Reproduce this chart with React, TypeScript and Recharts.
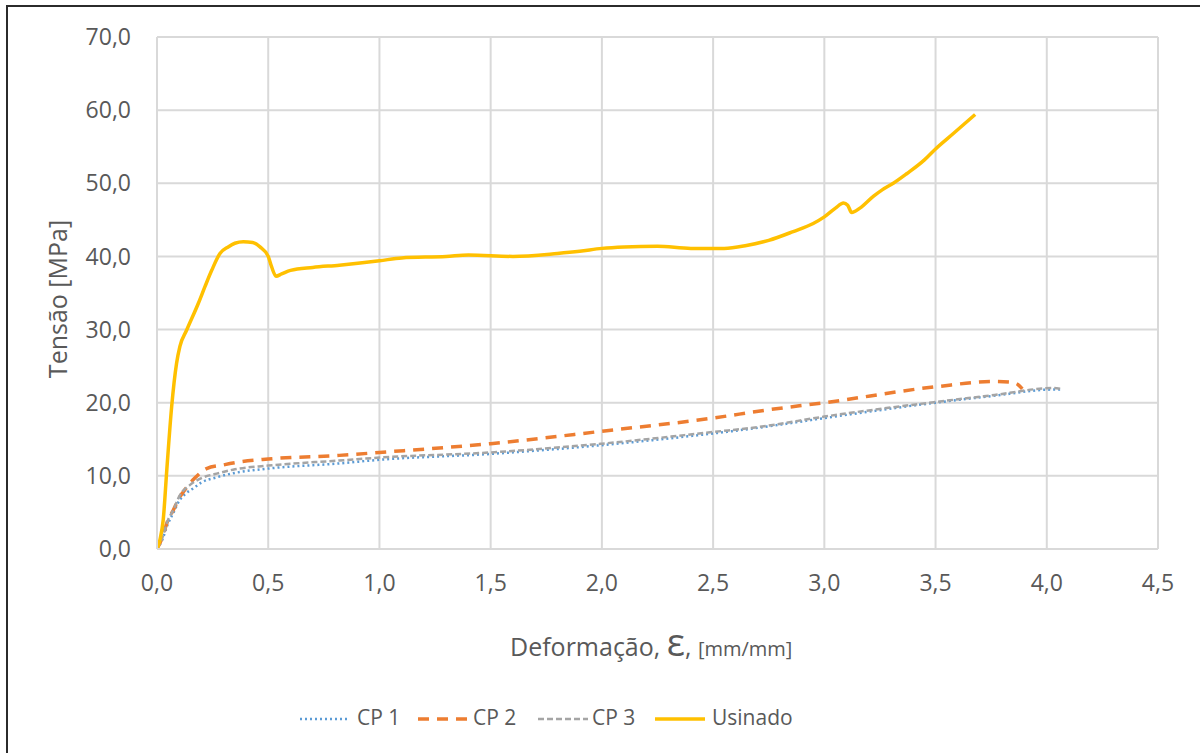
import * as React from "react";
import { CartesianGrid, Line, LineChart, XAxis, YAxis } from "recharts";

const FONT = "'Open Sans', 'DejaVu Sans', sans-serif";
const TXT = "#595959";
const GRID = "#d9d9d9";

const xTicks = [0, 0.5, 1, 1.5, 2, 2.5, 3, 3.5, 4, 4.5];
const yTicks = [0, 10, 20, 30, 40, 50, 60, 70];

// [deformação, tensão]
const cp1 = [
  [0, 0], [0.02, 1], [0.05, 3.5], [0.073, 4.9], [0.1, 6.6], [0.13, 7.6], [0.163, 8.3],
  [0.2, 9.1], [0.268, 9.8], [0.35, 10.4], [0.5, 11.0], [0.82, 11.7], [1.0, 12.2],
  [1.5, 13.0], [2.0, 14.2], [2.5, 15.8], [2.71, 16.6], [3.0, 17.9], [3.5, 20.0],
  [3.75, 20.9], [4.03, 21.8], [4.06, 21.8],
];
const cp2 = [
  [0, 0], [0.02, 1.3], [0.05, 4], [0.073, 5.3], [0.1, 7.0], [0.118, 7.8], [0.17, 9.7],
  [0.223, 11.0], [0.3, 11.5], [0.373, 11.9], [0.5, 12.3], [0.82, 12.8], [1.0, 13.2],
  [1.5, 14.4], [2.0, 16.1], [2.5, 17.9], [2.74, 19.0], [3.0, 20.0], [3.506, 22.2],
  [3.76, 22.9], [3.84, 22.8], [3.87, 22.5], [3.89, 21.9],
];
const cp3 = [
  [0, 0], [0.02, 1.2], [0.05, 4], [0.073, 5.3], [0.1, 7.2], [0.15, 8.8], [0.2, 9.7],
  [0.268, 10.3], [0.35, 10.9], [0.5, 11.4], [0.82, 12.1], [1.0, 12.5], [1.5, 13.2],
  [2.0, 14.4], [2.5, 16.0], [2.71, 16.7], [3.0, 18.1], [3.5, 20.1], [3.75, 21.0],
  [4.03, 22.0], [4.06, 21.9],
];
const usinado = [
  [0, 0], [0.015, 1.5], [0.028, 4.0], [0.044, 10.8], [0.066, 19.5], [0.088, 25.4],
  [0.103, 27.7], [0.133, 29.9], [0.186, 33.6], [0.216, 35.9], [0.246, 38.1],
  [0.283, 40.4], [0.32, 41.3], [0.35, 41.8], [0.388, 42.0], [0.43, 41.9], [0.463, 41.3],
  [0.5, 40.0], [0.515, 38.6], [0.535, 37.3], [0.56, 37.6], [0.6, 38.1], [0.7, 38.5],
  [0.82, 38.8], [1.0, 39.4], [1.1, 39.8], [1.3, 40.0], [1.4, 40.2], [1.6, 40.0],
  [1.8, 40.4], [1.9, 40.7], [2.0, 41.1], [2.1, 41.3], [2.25, 41.4], [2.4, 41.1],
  [2.55, 41.1], [2.65, 41.5], [2.75, 42.2], [2.86, 43.4], [2.95, 44.5], [3.0, 45.4],
  [3.05, 46.6], [3.086, 47.3], [3.105, 47.0], [3.123, 46.0], [3.16, 46.6], [3.22, 48.2],
  [3.26, 49.1], [3.31, 50.0], [3.37, 51.3], [3.45, 53.2], [3.5, 54.7], [3.58, 56.8],
  [3.678, 59.4],
];

const series = [
  { name: "CP 1", pts: cp1, color: "#5b9bd5", width: 2.5, dash: "2 3", lx: 300, tx: 357 },
  { name: "CP 2", pts: cp2, color: "#ed7d31", width: 3.5, dash: "11 8", lx: 418, tx: 473 },
  { name: "CP 3", pts: cp3, color: "#a5a5a5", width: 2.5, dash: "6 3", lx: 538, tx: 592 },
  { name: "Usinado", pts: usinado, color: "#ffc000", width: 3.5, dash: undefined, lx: 655, tx: 712 },
];

const fmt = (v: number) => v.toFixed(1).replace(".", ",");
const tick = { fill: TXT, fontSize: 23, fontFamily: FONT };

function LegendRow() {
  return (
    <>
      {series.map((s) => (
        <React.Fragment key={s.name}>
          <svg width={50} height={10} style={{ position: "absolute", left: s.lx, top: 714 }}>
            <line x1={0} y1={5} x2={50} y2={5} stroke={s.color} strokeWidth={s.width} strokeDasharray={s.dash} />
          </svg>
          <span style={{ position: "absolute", left: s.tx, top: 703, fontFamily: FONT, fontSize: 21,
            color: TXT, whiteSpace: "nowrap" }}>{s.name}</span>
        </React.Fragment>
      ))}
    </>
  );
}

export default function App() {
  return (
    <div style={{ position: "absolute", left: 0, top: 0, width: 1200, height: 753, background: "#fff", overflow: "hidden" }}>
      <div style={{ position: "absolute", left: 6, top: 5, right: -10, bottom: -10,
        borderTop: "2px solid #2b2b2b", borderLeft: "2px solid #2b2b2b" }} />
      <LineChart width={1200} height={753} margin={{ top: 37, right: 42, left: 0, bottom: 0 }}
        style={{ position: "absolute", left: 0, top: 0 }}>
        <CartesianGrid stroke={GRID} strokeWidth={2} />
        <XAxis type="number" dataKey="x" domain={[0, 4.5]} ticks={xTicks} tickFormatter={fmt}
          height={204} tick={tick} tickLine={false} tickSize={0} tickMargin={26}
          axisLine={{ stroke: GRID, strokeWidth: 2 }} allowDataOverflow />
        <YAxis type="number" domain={[0, 70]} ticks={yTicks} tickFormatter={fmt}
          width={157} tick={tick} tickLine={false} tickSize={0} tickMargin={26}
          axisLine={{ stroke: GRID, strokeWidth: 2 }} />
        {series.map((s) => (
          <Line key={s.name} data={s.pts.map(([x, y]) => ({ x, y }))} dataKey="y" name={s.name}
            type="monotone" stroke={s.color} strokeWidth={s.width} strokeDasharray={s.dash}
            dot={false} activeDot={false} isAnimationActive={false} />
        ))}
      </LineChart>
      <div style={{ position: "absolute", left: 57, top: 299, transform: "translate(-50%, -50%) rotate(-90deg)",
        fontFamily: FONT, fontSize: 25, color: TXT, whiteSpace: "nowrap" }}>
        Tensão [MPa]
      </div>
      <div style={{ position: "absolute", left: 510, top: 615, fontFamily: FONT, color: TXT, whiteSpace: "nowrap" }}>
        <span style={{ fontSize: 25 }}>Deformação, </span>
        <span style={{ fontSize: 38 }}>ε</span>
        <span style={{ fontSize: 25 }}>, </span>
        <span style={{ fontSize: 20 }}>[mm/mm]</span>
      </div>
      <LegendRow />
    </div>
  );
}
